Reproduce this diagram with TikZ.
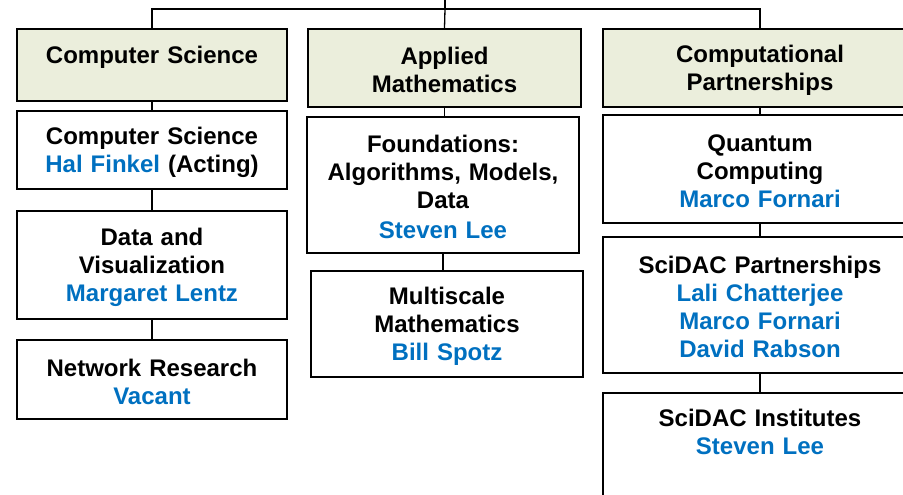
\documentclass[tikz,border=0pt]{standalone}
\usepackage{fontspec}
\setmainfont{Liberation Sans}
\definecolor{headfill}{HTML}{EBEEDC}
\definecolor{leadblue}{HTML}{0070C0}
\newcommand\lift{\rule{0pt}{22pt}}
\begin{document}
\begin{tikzpicture}[x=1pt,y=-1pt,
  box/.style={draw,line width=1.8pt,align=center,inner sep=0pt,
    font=\fontsize{24}{28}\selectfont\bfseries},
  headbox/.style={box,fill=headfill},
  link/.style={line width=1.3pt}]
\useasboundingbox (0,0) rectangle (903,495);
\clip (0,0) rectangle (903,495);

% division headers
\node[headbox,minimum width=270pt,minimum height=72pt,text width=260pt,
  text height=17pt,text depth=20pt] (cs) at (152,65) {Computer Science};
\node[headbox,minimum width=273pt,minimum height=78pt,text width=263pt] (am) at (444.5,68) {\lift Applied\\Mathematics};
\node[headbox,minimum width=314pt,minimum height=78pt,text width=304pt] (cp) at (760,68) {\lift Computational\\Partnerships};

% computer science
\node[box,minimum width=270pt,minimum height=78pt,text width=260pt] (csl) at (152,150) {\lift Computer Science\\\textcolor{leadblue}{Hal Finkel} (Acting)};
\node[box,minimum width=270pt,minimum height=108pt,text width=260pt] (dv) at (152,265) {\lift Data and\\Visualization\\\textcolor{leadblue}{Margaret Lentz}};
\node[box,minimum width=270pt,minimum height=79pt,text width=260pt] (nr) at (152,379.5) {\lift Network Research\\\textcolor{leadblue}{Vacant}};

% applied mathematics
\node[box,minimum width=272pt,minimum height=136pt,text width=262pt] (fd) at (443,185) {\lift Foundations:\\Algorithms, Models,\\Data\\[2pt]\textcolor{leadblue}{Steven Lee}};
\node[box,minimum width=272pt,minimum height=106pt,text width=262pt] (ms) at (447,324) {\lift Multiscale\\Mathematics\\\textcolor{leadblue}{Bill Spotz}};

% computational partnerships
\node[box,minimum width=314pt,minimum height=108pt,text width=304pt] (qc) at (760,169) {\lift Quantum\\Computing\\\textcolor{leadblue}{Marco Fornari}};
\node[box,minimum width=314pt,minimum height=136pt,text width=304pt] (sp) at (760,305) {\lift SciDAC Partnerships\\\textcolor{leadblue}{Lali Chatterjee}\\\textcolor{leadblue}{Marco Fornari}\\\textcolor{leadblue}{David Rabson}};
\node[box,minimum width=314pt,minimum height=138pt,text width=304pt] (si) at (760,462) {\lift SciDAC Institutes\\\textcolor{leadblue}{Steven Lee}\\\strut\\\strut};

% connectors
\coordinate (top) at (445,0);
\coordinate (bus) at (445,9);
\draw[link] (top) -- (bus);
\draw[link] (cs.north) |- (bus) -| (cp.north);
\draw[link] (bus) -- (am.north);
\draw[link] (cs.south) -- (csl.north);
\draw[link] (csl.south) -- (dv.north);
\draw[link] (dv.south) -- (nr.north);
\draw[link] (am.south) -- (am.south |- fd.north);
\draw[link] (fd.south) -- (fd.south |- ms.north);
\draw[link] (cp.south) -- (qc.north);
\draw[link] (qc.south) -- (sp.north);
\draw[link] (sp.south) -- (si.north);
\end{tikzpicture}
\end{document}
